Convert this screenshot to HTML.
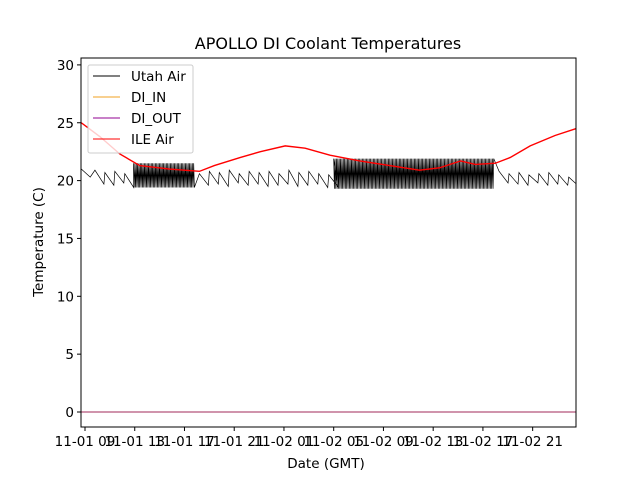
<!DOCTYPE html>
<html><head><meta charset="utf-8"><style>
body{margin:0;background:#fff}
svg{display:block;font-family:"DejaVu Sans","Liberation Sans",sans-serif}
</style></head><body>
<svg id="c" width="640" height="480">
<rect width="640" height="480" fill="#fff"/>
<text x="328" y="49" font-size="16" text-anchor="middle">APOLLO DI Coolant Temperatures</text>
<g id="plot"></g>
<g id="axes"></g>
<text x="326" y="468" font-size="13.5" text-anchor="middle">Date (GMT)</text>
<text transform="translate(43,242) rotate(-90)" font-size="13.5" text-anchor="middle">Temperature (C)</text>
<g id="legend"></g>
</svg>
<script>
// hours since 11-01 00:00
const xTickHours=[9,13,17,21,25,29,33,37,41,45];
const xTickLabels=["11-01 09","11-01 13","11-01 17","11-01 21","11-02 01","11-02 05","11-02 09","11-02 13","11-02 17","11-02 21"];
const yTicks=[0,5,10,15,20,25,30];
const ileT=[8.7,10.2,11.8,13.4,15.8,18.2,19.4,21.5,23.1,25.1,26.7,28.7,31.1,33.5,35.9,37.5,39.2,40.4,42,43.2,44.8,46.8,48.5];
const ileV=[25.0,23.8,22.3,21.3,21.0,20.8,21.3,22.0,22.5,23.0,22.8,22.2,21.7,21.3,20.9,21.1,21.7,21.4,21.5,22.0,23.0,23.9,24.5];
const utahPeakT=[8.7,9.8,10.6,11.4,12.2,18.2,19.0,19.8,20.6,21.4,22.2,23.0,23.8,24.6,25.4,26.2,27.0,27.8,28.6,42.3,43.1,43.9,44.7,45.5,46.3,47.1,47.9];
const utahPeakV=[21.0,20.9,20.7,20.8,20.6,20.6,20.8,20.7,20.9,20.6,20.8,20.7,20.8,20.6,20.9,20.7,20.8,20.6,20.5,20.8,20.6,20.7,20.5,20.6,20.7,20.5,20.3];
const utahTroughV=[20.3,19.7,19.6,19.8,19.4,19.6,19.7,19.5,19.8,19.6,19.7,19.5,19.6,19.7,19.5,19.6,19.7,19.4,19.5,19.8,19.7,19.6,19.8,19.6,19.7,19.6,19.6];
const denseStart=[12.9,29.0];
const denseEnd=[17.8,41.9];
const denseHigh=[21.5,21.9];
const denseLow=[19.4,19.3];
const diOutV=0.0;
const diInV=0.0;

const X0=81,X1=576,Y0=58,Y1=427;
const xs=h=>85+(h-9)*49.74/4;
const ys=v=>412-v*11.57;
const NS="http://www.w3.org/2000/svg";
function mk(tag,attrs,parent){const e=document.createElementNS(NS,tag);for(const k in attrs)e.setAttribute(k,attrs[k]);parent.appendChild(e);return e;}
const plot=document.getElementById('plot'),axes=document.getElementById('axes'),legend=document.getElementById('legend');
const clip=mk('clipPath',{id:'cp'},plot);mk('rect',{x:X0,y:Y0,width:X1-X0,height:Y1-Y0},clip);
const g=mk('g',{'clip-path':'url(#cp)'},plot);

// Utah Air
let pts=[];
let segs=[];
for(let i=0;i<utahPeakT.length;i++){segs.push({t:utahPeakT[i],type:'saw',i:i});}
for(let j=0;j<denseStart.length;j++){segs.push({t:denseStart[j],type:'dense',j:j});}
segs.sort((a,b)=>a.t-b.t);
segs.forEach(s=>{
 if(s.type==='saw'){pts.push([xs(s.t),ys(utahPeakV[s.i])]);pts.push([xs(s.t+0.72),ys(utahTroughV[s.i])]);}
 else{const j=s.j;let k=0;for(let t=denseStart[j];t<=denseEnd[j];t+=0.055,k++){pts.push([xs(t),ys(k%2?denseLow[j]:denseHigh[j])]);}}
});
const utah=mk('polyline',{points:pts.map(p=>p.join(',')).join(' '),fill:'none',stroke:'#000','stroke-width':0.7},g);



// DI lines at 0
const diin=mk('line',{x1:X0,x2:X1,y1:ys(diInV),y2:ys(diInV),stroke:'#f5b041','stroke-width':1},g);


const diout=mk('line',{x1:X0,x2:X1,y1:ys(diOutV),y2:ys(diOutV),stroke:'#a0285a','stroke-width':1},g);



// ILE Air
const ile=mk('polyline',{points:ileT.map((t,i)=>xs(t)+','+ys(ileV[i])).join(' '),fill:'none',stroke:'#ff0000','stroke-width':1.4},g);



// frame
mk('rect',{x:X0,y:Y0,width:X1-X0,height:Y1-Y0,fill:'none',stroke:'#000','stroke-width':1},axes);
yTicks.forEach(v=>{
 const y=ys(v);
 mk('line',{x1:X0-4,x2:X0,y1:y,y2:y,stroke:'#000'},axes);
 const t=mk('text',{x:X0-7,y:y+5,'font-size':13.5,'text-anchor':'end'},axes);t.textContent=v;
 
 
});
xTickHours.forEach((h,i)=>{
 const x=xs(h);
 mk('line',{x1:x,x2:x,y1:Y1,y2:Y1+4,stroke:'#000'},axes);
 const t=mk('text',{x:x,y:Y1+19,'font-size':13.5,'text-anchor':'middle'},axes);t.textContent=xTickLabels[i];
 
 
});

// legend
mk('rect',{x:88,y:65,width:105,height:88,fill:'#fff','fill-opacity':0.8,stroke:'#ccc',rx:2},legend);
const names=["Utah Air","DI_IN","DI_OUT","ILE Air"],cols=["#000","#f0a020","#900090","#ff0000"];
names.forEach((n,i)=>{
 const y=76+i*21;
 mk('line',{x1:93,x2:120,y1:y,y2:y,stroke:cols[i],'stroke-width':1},legend);
 const t=mk('text',{x:131,y:y+5,'font-size':13.5},legend);t.textContent=n;
 
 
});
</script>
</body></html>
